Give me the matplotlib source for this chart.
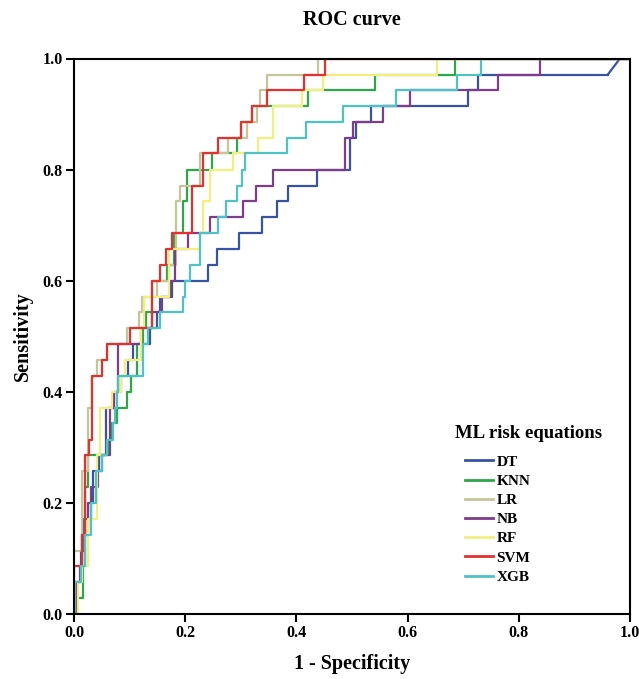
import matplotlib
matplotlib.use("Agg")
import matplotlib.pyplot as plt

models = ["DT", "KNN", "LR", "NB", "RF", "SVM", "XGB"]
colors = ["#3953A4", "#2BA84A", "#C5C59A", "#7D3C8C", "#F3EF7D", "#E4302F", "#4DC3C6"]

dt_fpr = [0, 0.004, 0.012, 0.018, 0.03, 0.035, 0.045, 0.058, 0.072, 0.085, 0.097, 0.106, 0.137, 0.149,
          0.155, 0.176, 0.241, 0.257, 0.297, 0.338, 0.365, 0.385, 0.437, 0.496, 0.508, 0.534, 0.709, 0.727, 0.96]
dt_tpr = [0, 0, .057, .114, .171, .2, .257, .286, .371, .4, .429, .457, .486, .514,
          .543, .571, .6, .629, .657, .686, .714, .743, .771, .8, .857, .886, .914, .943, .971]
dt_tie_fpr = [0.96, 0.982, 1.0]
dt_tie_tpr = [0.971, 1.0, 1.0]

knn_fpr = [0, 0.005, 0.016, 0.02, 0.025, 0.061, 0.068, 0.077, 0.095, 0.103, 0.113, 0.124, 0.13, 0.14,
           0.167, 0.18, 0.196, 0.203, 0.248, 0.293, 0.30, 0.32, 0.42, 0.541, 0.685, 1.0]
knn_tpr = [0, 0, .029, .086, .229, .286, .314, .343, .371, .4, .429, .486, .514, .543,
           .6, .629, .686, .743, .8, .829, .857, .886, .914, .943, .971, 1.0]

lr_fpr = [0, 0.014, 0.025, 0.032, 0.041, 0.06, 0.095, 0.117, 0.122, 0.15, 0.17, 0.183, 0.19, 0.227,
          0.277, 0.311, 0.33, 0.335, 0.347, 0.439, 1.0]
lr_tpr = [0, .114, .257, .371, .429, .457, .486, .514, .543, .571, .6, .629, .743, .771,
          .829, .857, .886, .914, .943, .971, 1.0]

nb_fpr = [0, 0.005, 0.01, 0.015, 0.025, 0.03, 0.043, 0.05, 0.065, 0.072, 0.079, 0.12, 0.14, 0.158,
          0.173, 0.182, 0.205, 0.245, 0.304, 0.327, 0.358, 0.487, 0.502, 0.556, 0.604, 0.762, 0.838, 1.0]
nb_tpr = [0, 0, .057, .086, .143, .2, .229, .257, .286, .371, .4, .486, .514, .543,
          .571, .6, .657, .686, .714, .743, .771, .8, .857, .886, .914, .943, .971, 1.0]

rf_fpr = [0, 0.008, 0.015, 0.025, 0.042, 0.047, 0.068, 0.085, 0.092, 0.12, 0.126, 0.17, 0.227, 0.232,
          0.245, 0.286, 0.331, 0.358, 0.41, 0.448, 0.652, 1.0]
rf_tpr = [0, 0, .057, .086, .171, .286, .371, .4, .429, .457, .514, .571, .657, .686,
          .743, .8, .829, .857, .914, .943, .971, 1.0]

svm_fpr = [0, 0.014, 0.02, 0.027, 0.032, 0.05, 0.06, 0.10, 0.14, 0.155, 0.165, 0.176, 0.213, 0.232,
           0.259, 0.30, 0.32, 0.347, 0.414, 0.451, 1.0]
svm_tpr = [0, .086, .143, .286, .314, .429, .457, .486, .514, .6, .629, .657, .686, .771,
           .829, .857, .886, .914, .943, .971, 1.0]

xgb_fpr = [0, 0.002, 0.012, 0.02, 0.03, 0.04, 0.05, 0.06, 0.07, 0.074, 0.077, 0.079, 0.124, 0.133,
           0.155, 0.196, 0.2, 0.209, 0.227, 0.259, 0.273, 0.293, 0.302, 0.307, 0.383, 0.417, 0.484,
           0.579, 0.688, 0.732, 1.0]
xgb_tpr = [0, 0, .057, .086, .143, .2, .257, .286, .314, .343, .371, .4, .429, .486,
           .514, .543, .571, .6, .629, .686, .714, .743, .771, .8, .829, .857, .886,
           .914, .943, .971, 1.0]

ticks = [0.0, 0.2, 0.4, 0.6, 0.8, 1.0]
tick_labels = ["0.0", "0.2", "0.4", "0.6", "0.8", "1.0"]

serif = ["Liberation Serif", "DejaVu Serif"]
plt.rcParams["font.family"] = serif
plt.rcParams["font.weight"] = "bold"

fig = plt.figure(figsize=(6.39, 6.79), dpi=100)
ax = fig.add_axes([74 / 639, 65 / 679, 556 / 639, 555.5 / 679])

curves = [(dt_fpr, dt_tpr), (knn_fpr, knn_tpr), (lr_fpr, lr_tpr), (nb_fpr, nb_tpr),
          (rf_fpr, rf_tpr), (svm_fpr, svm_tpr), (xgb_fpr, xgb_tpr)]
for name, (fx, ty), c in zip(models, curves, colors):
    ax.plot(fx, ty, drawstyle="steps-pre", color=c, lw=1.6, label=name)
    if name == "DT":
        ax.plot(dt_tie_fpr, dt_tie_tpr, color=c, lw=1.6)

ax.set_xlim(0, 1)
ax.set_ylim(0, 1)
ax.set_xticks(ticks)
ax.set_xticklabels(tick_labels)
ax.set_yticks(ticks)
ax.set_yticklabels(tick_labels)
for s in ax.spines.values():
    s.set_linewidth(1.5)
    s.set_color("black")
ax.tick_params(direction="out", length=6, width=1.5, labelsize=11.5, pad=2)
for lab in ax.get_xticklabels() + ax.get_yticklabels():
    lab.set_fontweight("bold")

ax.set_title("ROC curve", fontsize=14.5, fontweight="bold", pad=24)
ax.set_xlabel("1 - Specificity", fontsize=14.5, fontweight="bold", labelpad=9)
ax.set_ylabel("Sensitivity", fontsize=14.5, fontweight="bold", labelpad=7)

fig.text(455 / 639, 1 - 433 / 679, "ML risk equations", fontsize=13.5, fontweight="bold",
         ha="left", va="center")
leg = ax.legend(loc="upper left", bbox_to_anchor=(465 / 639, 1 - 455 / 679),
                bbox_transform=fig.transFigure, frameon=False,
                handlelength=1.8, handletextpad=0.25, labelspacing=0.36,
                borderpad=0, borderaxespad=0, prop={"weight": "bold", "size": 11})
for line in leg.get_lines():
    line.set_linewidth(2.0)

fig.savefig("out.png", dpi=100)
